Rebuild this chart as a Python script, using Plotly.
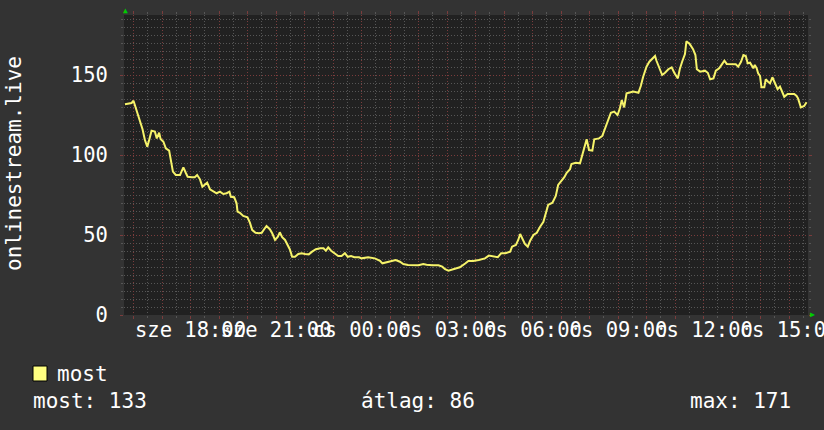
import pandas as pd
import plotly.graph_objects as go

# ---------------- data ----------------
series_name = "most"
y_title = "onlinestream.live"
window_start = "2024-05-15 15:40"   # Wednesday (sze) -> Thursday (cs)

# minutes after window_start
minutes = [2, 9, 16, 20, 23, 28, 34, 39, 44, 49, 53, 58, 65, 69, 74, 77, 83, 88, 95, 99,
           103, 109, 118, 121, 125, 130, 134, 143, 149, 154, 160, 165, 171, 175, 181, 188, 195, 202, 209, 216,
           222, 225, 232, 237, 239, 244, 251, 260, 265, 270, 277, 284, 290, 295, 300, 307, 312, 318, 324, 328,
           333, 339, 345, 349, 354, 360, 367, 374, 381, 389, 396, 404, 413, 420, 425, 430, 436, 443, 451, 458,
           465, 471, 478, 485, 495, 500, 514, 528, 539, 544, 553, 564, 572, 581, 588, 598, 609, 620, 630, 637,
           649, 662, 670, 676, 683, 691, 700, 707, 714, 719, 725, 735, 747, 754, 760, 768, 777, 787, 794, 803,
           813, 817, 825, 830, 834, 839, 844, 850, 855, 862, 869, 876, 883, 888, 893, 902, 909, 914, 920, 927,
           932, 939, 942, 951, 960, 965, 969, 974, 979, 986, 990, 1000, 1007, 1013, 1018, 1025, 1032, 1039, 1044, 1048,
           1053, 1058, 1063, 1072, 1083, 1088, 1093, 1100, 1106, 1112, 1118, 1121, 1128, 1133, 1139, 1146, 1153, 1159, 1166, 1170,
           1175, 1181, 1184, 1191, 1198, 1203, 1206, 1213, 1223, 1229, 1234, 1241, 1246, 1253, 1258, 1264, 1269, 1279, 1288, 1293,
           1299, 1304, 1309, 1313, 1318, 1325, 1328, 1332, 1335, 1339, 1342, 1348, 1351, 1356, 1360, 1365, 1370, 1376, 1381, 1386,
           1390, 1397, 1405, 1411, 1416, 1419, 1425, 1432, 1437]

viewers = [131.7, 132.3, 132.5, 133.9, 131.3, 126.3, 120.8, 116.1, 109.4, 105.2, 109.4, 115.2, 114.6, 110.4, 113.9, 110.0, 108.3, 104.2, 102.7, 96.9,
           89.6, 87.5, 87.5, 89.6, 92.3, 88.9, 86.4, 86.1, 86.1, 87.5, 84.8, 80.2, 81.9, 82.7, 78.6, 77.1, 76.1, 77.1, 75.6, 76.1,
           77.1, 73.9, 73.6, 69.8, 64.6, 63.9, 61.9, 61.1, 57.7, 53.1, 51.4, 51.1, 51.4, 53.6, 55.6, 53.6, 51.1, 46.9, 48.9, 51.7,
           48.6, 46.9, 43.8, 41.1, 36.4, 36.4, 38.1, 38.6, 38.1, 37.9, 39.6, 41.1, 41.7, 41.7, 40.2, 42.3, 40.2, 38.6, 36.9, 36.9,
           38.6, 36.4, 36.9, 36.1, 36.1, 35.4, 36.1, 35.4, 33.9, 32.3, 33.1, 33.8, 34.4, 33.3, 31.9, 31.3, 31.4, 31.1, 31.9, 31.4,
           31.1, 31.1, 30.2, 28.6, 27.7, 28.6, 29.2, 29.8, 31.1, 32.3, 33.8, 33.8, 34.4, 34.8, 35.4, 37.1, 36.4, 36.1, 38.6, 38.6,
           39.6, 42.7, 43.8, 46.9, 50.6, 47.3, 44.4, 42.7, 46.4, 50.0, 51.4, 55.2, 58.3, 63.6, 68.8, 70.2, 74.4, 81.3, 83.3, 86.1,
           88.9, 91.1, 94.4, 95.2, 94.8, 100.0, 104.2, 109.8, 103.1, 102.7, 109.8, 110.4, 111.9, 116.7, 121.9, 126.4, 127.1, 125.0, 129.2, 134.4,
           129.8, 138.6, 138.9, 139.6, 138.9, 143.1, 148.9, 155.2, 158.3, 159.8, 161.9, 158.9, 153.6, 150.0, 151.4, 153.6, 154.8, 151.1, 147.9, 153.6,
           158.3, 163.1, 171.0, 169.4, 166.1, 162.5, 153.6, 152.1, 152.7, 151.4, 147.3, 147.9, 152.7, 154.2, 156.3, 158.9, 156.9, 156.7, 156.7, 155.2,
           158.3, 162.5, 161.9, 157.3, 157.7, 154.2, 156.3, 154.2, 151.1, 149.4, 142.3, 142.3, 147.3, 145.8, 144.8, 148.6, 144.8, 141.1, 142.7, 139.6,
           136.4, 138.1, 138.1, 138.1, 136.9, 135.4, 129.8, 130.6, 133.0]

tick_times = ["2024-05-15 18:00", "2024-05-15 21:00", "2024-05-16 00:00", "2024-05-16 03:00",
              "2024-05-16 06:00", "2024-05-16 09:00", "2024-05-16 12:00", "2024-05-16 15:00"]
tick_labels = ["sze 18:00", "sze 21:00", "cs 00:00", "cs 03:00",
               "cs 06:00", "cs 09:00", "cs 12:00", "cs 15:00"]
y_tick_values = [0, 50, 100, 150]

stat_names = ["most", "átlag", "max"]
stat_values = [133, 86, 171]

# ---------------- styling ----------------
W, H = 824, 430
L, R, T, B = 124, 16, 15, 115
PW, PH = W - L - R, H - T - B
FONT = "DejaVu Sans Mono"
BG = "#333333"
PLOT_BG = "#212121"
RED = "#7a3c3c"
GREY = "#565656"
LINE = "#f6f36a"
TXT = "#ffffff"
DOT = "1px,2px"


def px(xp):
    return (xp - L) / PW


def py(yp):
    return (T + PH - yp) / PH


start = pd.Timestamp(window_start)
end = start + pd.Timedelta(hours=24)
x = [start + pd.Timedelta(minutes=m) for m in minutes]

fig = go.Figure()
fig.add_trace(go.Scatter(x=x, y=viewers, mode="lines", name=series_name,
                         line=dict(color=LINE, width=2), showlegend=False,
                         xaxis="x", yaxis="y", hoverinfo="skip"))

first_hour = start.ceil("h")
fig.update_layout(
    width=W, height=H, autosize=False,
    margin=dict(l=L, r=R, t=T, b=B, autoexpand=False),
    paper_bgcolor=BG, plot_bgcolor=PLOT_BG,
    font=dict(family=FONT, color=TXT, size=20),
    showlegend=False,
    xaxis=dict(
        type="date", range=[start, end], automargin=False,
        tick0=first_hour, dtick=3600000,
        showticklabels=False,
        showgrid=True, gridcolor=RED, griddash=DOT, gridwidth=1,
        ticks="outside", ticklen=3, tickcolor=RED, mirror="ticks",
        zeroline=False, showline=False,
        minor=dict(tick0=first_hour, dtick=1800000, showgrid=True, gridcolor=GREY,
                   griddash=DOT, ticks="outside", ticklen=2, tickcolor=GREY),
    ),
    xaxis2=dict(
        type="date", overlaying="x", anchor="y", side="bottom", automargin=False,
        range=[start, end], tickmode="array", tickvals=tick_times, ticktext=tick_labels,
        tickangle=0, showgrid=False, ticks="", ticklabeloverflow="allow",
        tickfont=dict(family=FONT, size=20.5, color=TXT), zeroline=False, showline=False,
    ),
    yaxis=dict(
        range=[0, 187.5], tickmode="array", tickvals=y_tick_values, automargin=False,
        showgrid=True, gridcolor=RED, griddash=DOT, gridwidth=1,
        ticks="outside", ticklen=3, tickcolor=RED, mirror="ticks",
        zeroline=False, showline=False, ticklabelstandoff=8,
        tickfont=dict(family=FONT, size=20.5, color=TXT),
        minor=dict(dtick=5, showgrid=True, gridcolor=GREY, griddash=DOT,
                   ticks="outside", ticklen=2, tickcolor=GREY),
    ),
)

# dummy trace so xaxis2 is drawn
fig.add_trace(go.Scatter(x=[start], y=[None], xaxis="x2", yaxis="y",
                         showlegend=False, hoverinfo="skip"))

ann = []
ann.append(dict(text=y_title, x=px(14), y=py(164), xref="paper", yref="paper",
                textangle=-90, showarrow=False, xanchor="center", yanchor="middle",
                font=dict(family=FONT, size=21, color=TXT)))
ann.append(dict(text="▲", x=px(125), y=py(11), xref="paper", yref="paper", showarrow=False,
                xanchor="center", yanchor="middle", font=dict(size=8, color="#00cc00")))
ann.append(dict(text="▶", x=px(812), y=py(314), xref="paper", yref="paper", showarrow=False,
                xanchor="center", yanchor="middle", font=dict(size=8, color="#00cc00")))
ann.append(dict(text=series_name, x=px(55), y=py(374), xref="paper", yref="paper", showarrow=False,
                xanchor="left", yanchor="middle", font=dict(family=FONT, size=21, color=TXT)))
stat_pos = [(31, "left"), (359, "left"), (793, "right")]
for (name, val), (xp, anc) in zip(zip(stat_names, stat_values), stat_pos):
    ann.append(dict(text=f"{name}: {val}", x=px(xp), y=py(401), xref="paper", yref="paper",
                    showarrow=False, xanchor=anc, yanchor="middle",
                    font=dict(family=FONT, size=21, color=TXT)))
fig.update_layout(annotations=ann)

fig.add_shape(type="rect", xref="paper", yref="paper",
              x0=px(33), x1=px(47), y0=py(381), y1=py(366),
              fillcolor="#ffff80", line=dict(color="#000000", width=1))

fig.write_html(
    "out.html",
    config={"displayModeBar": False, "responsive": False, "staticPlot": True},
    post_script="document.body.style.margin='0';document.body.style.padding='0';"
                "document.body.style.background='#333333';"
                "document.documentElement.style.overflow='hidden';",
)
